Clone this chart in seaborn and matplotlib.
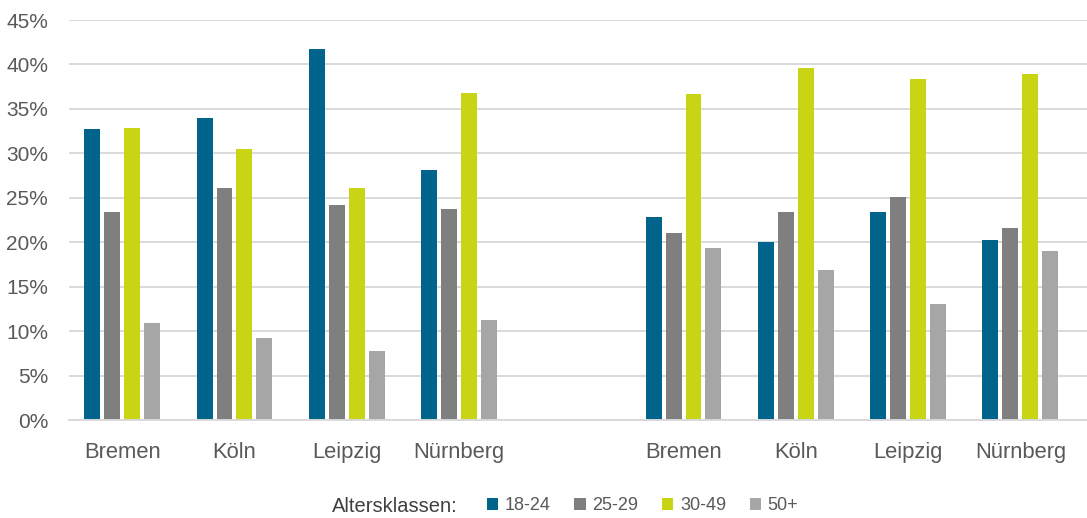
import matplotlib
matplotlib.use("Agg")
import matplotlib.pyplot as plt
from matplotlib import font_manager
import seaborn as sns
import pandas as pd

# Cities shown in each of the two blocks
cities = ["Bremen", "Köln", "Leipzig", "Nürnberg"]
age_groups = ["18-24", "25-29", "30-49", "50+"]

# Shares per age class (percent), first block
first_18_24 = [32.7, 34.0, 41.7, 28.1]
first_25_29 = [23.4, 26.1, 24.2, 23.7]
first_30_49 = [32.9, 30.5, 26.1, 36.8]
first_50_plus = [10.9, 9.2, 7.8, 11.2]

# Shares per age class (percent), second block
second_18_24 = [22.8, 20.0, 23.4, 20.3]
second_25_29 = [21.0, 23.4, 25.1, 21.6]
second_30_49 = [36.7, 39.6, 38.4, 38.9]
second_50_plus = [19.3, 16.9, 13.1, 19.0]

y_ticks = [0, 5, 10, 15, 20, 25, 30, 35, 40, 45]
legend_title = "Altersklassen:"

colors = ["#00648C", "#7F7F7F", "#C8D414", "#A6A6A6"]

# Long-format table; an empty slot separates the two blocks
rows = []
blocks = {
    "a": [first_18_24, first_25_29, first_30_49, first_50_plus],
    "b": [second_18_24, second_25_29, second_30_49, second_50_plus],
}
for block, series in blocks.items():
    for age, vals in zip(age_groups, series):
        for city, v in zip(cities, vals):
            rows.append({"slot": f"{block}:{city}", "age": age, "share": v})
df = pd.DataFrame(rows)
order = [f"a:{c}" for c in cities] + ["gap"] + [f"b:{c}" for c in cities]
tick_labels = cities + [""] + cities

installed = {f.name for f in font_manager.fontManager.ttflist}
has_narrow = "Liberation Sans Narrow" in installed
narrow = "Liberation Sans Narrow" if has_narrow else "Liberation Sans"
# Regular face is wider, so shrink a little when the narrow cut is missing
ytick_size = 16.5 if has_narrow else 15
title_size = 17 if has_narrow else 14.5
entry_size = 15.5 if has_narrow else 13

sns.set_theme(style="white")
plt.rcParams["font.family"] = ["Liberation Sans", "DejaVu Sans"]

W, H = 1087, 518
fig = plt.figure(figsize=(W / 100, H / 100), dpi=100)
ax = fig.add_axes([69 / W, 1 - 420 / H, (W - 69) / W, 400 / H])

sns.barplot(
    data=df, x="slot", y="share", hue="age", order=order,
    hue_order=age_groups, palette=colors, width=0.71, gap=0.2,
    linewidth=0, saturation=1, legend=True, ax=ax,
)
handles, labels = ax.get_legend_handles_labels()
ax.get_legend().remove()

ax.set_xlim(-0.474, 8.594)
ax.set_ylim(0, 45)
ax.set_yticks(y_ticks)
ax.set_yticklabels([f"{t}%" for t in y_ticks], fontfamily=narrow,
                   fontsize=ytick_size, color="#595959")
ax.set_xticks(range(len(order)))
ax.set_xticklabels(tick_labels, fontsize=15.8, color="#595959")
ax.tick_params(axis="y", length=0, pad=15)
ax.tick_params(axis="x", length=0, pad=16)
ax.set_xlabel("")
ax.set_ylabel("")

ax.grid(axis="y", color="#D9D9D9", linewidth=1.4)
ax.grid(axis="x", visible=False)
ax.set_axisbelow(True)
for side in ["top", "right", "left"]:
    ax.spines[side].set_visible(False)
ax.spines["bottom"].set_color("#D9D9D9")
ax.spines["bottom"].set_linewidth(1.4)

fig.text(332 / W, 1 - 506 / H, legend_title, fontfamily=narrow, fontsize=title_size,
         color="#404040", ha="left", va="center")
fig.legend(
    handles, labels, ncol=4, frameon=False,
    loc="center left", bbox_to_anchor=(487 / W, 1 - 506 / H),
    prop={"family": narrow, "size": entry_size},
    labelcolor="#595959", handlelength=0.62, handleheight=0.62,
    handletextpad=0.38, columnspacing=1.3, borderpad=0, borderaxespad=0,
)

fig.savefig("out.png", dpi=100)
